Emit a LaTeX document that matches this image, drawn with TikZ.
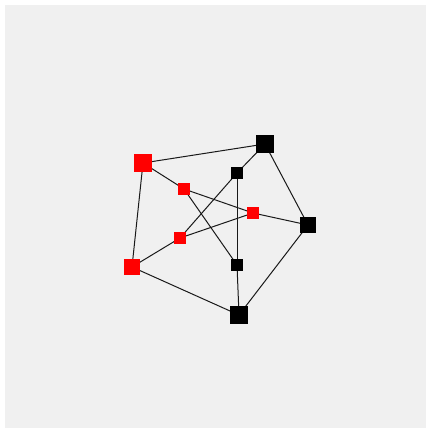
\documentclass[tikz,border=0pt]{standalone}
\definecolor{bg}{HTML}{F0F0F0}
\tikzset{
  big/.style={rectangle, inner sep=0pt, minimum size=17pt},
  small/.style={rectangle, inner sep=0pt, minimum size=12pt},
  rv/.style={fill=red},
  bv/.style={fill=black},
  edge/.style={draw=black!90, line width=1pt}
}
\begin{document}
\begin{tikzpicture}[x=1pt,y=-1pt]
\useasboundingbox (0,0) rectangle (426,428);
\fill[white] (0,0) rectangle (426,428);
\fill[bg] (5,5) rectangle (426,428);
% outer
\node[big,rv] (o1) at (143,163) {};
\node[big,bv] (o2) at (265,144) {};
\node[big,bv,minimum width=16pt,minimum height=15pt] (o3) at (308,225) {};
\node[big,bv] (o4) at (239,315) {};
\node[big,rv,minimum size=16pt] (o5) at (132,267) {};
% inner
\node[small,rv] (i1) at (184,189) {};
\node[small,bv] (i2) at (237,173) {};
\node[small,rv] (i3) at (253,213) {};
\node[small,bv,minimum size=11pt] (i4) at (237,265) {};
\node[small,rv] (i5) at (180,238) {};
% edges
\path[edge] (o1.center) -- (o2.center) -- (o3.center) -- (o4.center) -- (o5.center) -- (o1.center);
\path[edge] (o1.center) -- (i1.center);
\path[edge] (o2.center) -- (i2.center);
\path[edge] (o3.center) -- (i3.center);
\path[edge] (o4.center) -- (i4.center);
\path[edge] (o5.center) -- (i5.center);
\path[edge] (i1.center) -- (i3.center);
\path[edge] (i1.center) -- (i4.center);
\path[edge] (i2.center) -- (i5.center);
\path[edge] (i2.center) -- (i4.center);
\path[edge] (i5.center) -- (i3.center);
% vertices drawn over the edges
\foreach \n/\c in {o1/red,o2/black,o3/black,o4/black,o5/red,i1/red,i2/black,i3/red,i4/black,i5/red}{
  \fill[\c] (\n.south west) rectangle (\n.north east);
}
\end{tikzpicture}
\end{document}
